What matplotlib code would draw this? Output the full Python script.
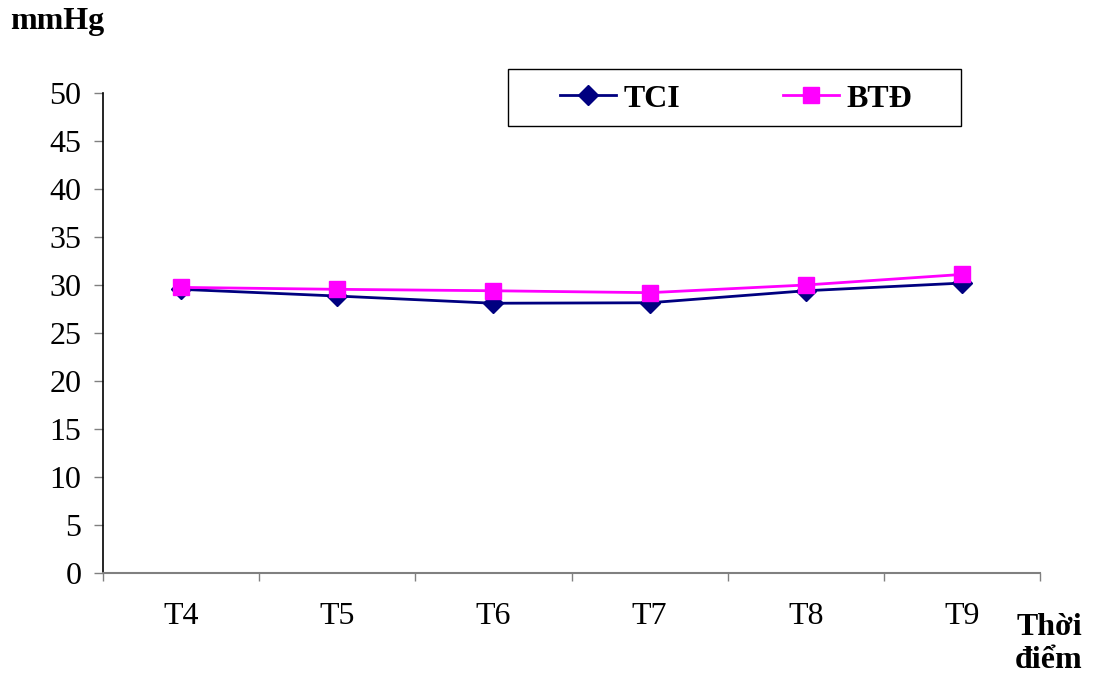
import matplotlib
matplotlib.use("Agg")
import matplotlib.pyplot as plt
from matplotlib.patches import Rectangle
import numpy as np

categories = ["T4", "T5", "T6", "T7", "T8", "T9"]
tci = [29.55, 28.85, 28.1, 28.15, 29.4, 30.2]
btd = [29.75, 29.55, 29.4, 29.2, 30.0, 31.1]
y_ticks = [0, 5, 10, 15, 20, 25, 30, 35, 40, 45, 50]

plt.rcParams["font.family"] = ["Liberation Serif", "DejaVu Serif"]
FS = 23

W, H = 1095, 681
fig = plt.figure(figsize=(W / 100, H / 100), dpi=100)
ax = fig.add_axes([103 / W, 1 - 573 / H, (1040 - 103) / W, (573 - 93) / H])

x = np.arange(len(categories))
ax.plot(x, tci, color="#000080", lw=2, marker="D", markersize=10,
        markerfacecolor="#000080", markeredgecolor="#000080", label="TCI", zorder=3)
ax.plot(x, btd, color="#FF00FF", lw=2, marker="s", markersize=12,
        markerfacecolor="#FF00FF", markeredgecolor="#FF00FF", label="BTĐ", zorder=4)

ax.set_xlim(-0.5, len(categories) - 0.5)
ax.set_ylim(0, 50)
ax.set_yticks(y_ticks)
ax.tick_params(axis="y", direction="out", length=6.5, width=1, color="#808080",
               labelsize=FS, pad=9)

# category boundaries carry the tick marks, centres carry the labels
ax.set_xticks(np.arange(-0.5, len(categories)), labels=[""] * (len(categories) + 1))
ax.set_xticks(x, labels=categories, minor=True)
ax.tick_params(axis="x", which="major", direction="out", length=6, width=1, color="#808080")
ax.tick_params(axis="x", which="minor", length=0, labelsize=FS, pad=21)

for side in ("top", "right"):
    ax.spines[side].set_visible(False)
ax.spines["left"].set_color("black")
ax.spines["left"].set_linewidth(1.2)
ax.spines["bottom"].set_color("#808080")
ax.spines["bottom"].set_linewidth(1.5)

# legend entries without frame, with a separate box around them
leg = ax.legend(loc="center left", bbox_to_anchor=(560 / W, 1 - 99 / H),
                bbox_transform=fig.transFigure,
                ncol=2, frameon=False, prop={"size": FS, "weight": "bold"},
                handlelength=1.75, columnspacing=3.2, handletextpad=0.25,
                borderpad=0, borderaxespad=0)
fig.patches.append(Rectangle((508 / W, 1 - 126 / H), (961 - 508) / W, (126 - 69) / H,
                             transform=fig.transFigure, fill=False,
                             edgecolor="black", linewidth=1.0))

fig.text(10 / W, 1 - 22 / H, "mmHg", fontsize=FS, fontweight="bold",
         ha="left", va="center")
fig.text(1049 / W, 1 - 644 / H, "Thời\nđiểm", fontsize=FS, fontweight="bold",
         ha="center", va="center", linespacing=1.15)

fig.savefig("out.png", dpi=100)
